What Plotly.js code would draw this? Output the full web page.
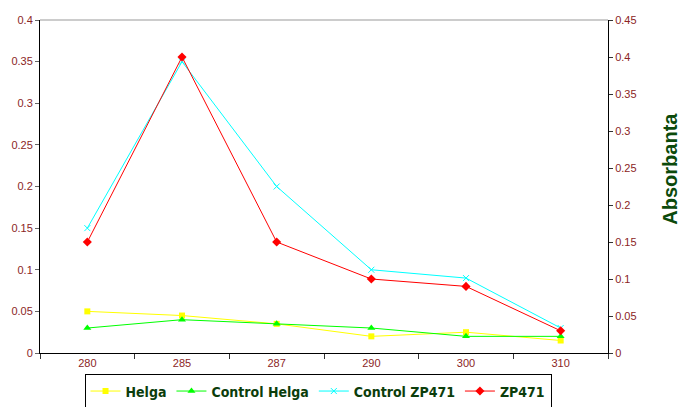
<!DOCTYPE html>
<html><head><meta charset="utf-8">
<script src="https://cdn.plot.ly/plotly-3.0.1.min.js"></script>
<style>html,body{margin:0;padding:0;background:#fff}</style>
</head><body>
<div id="chart" style="width:681px;height:407px"></div>
<script>
const categories = ["280", "285", "287", "290", "300", "310"];
const helga = [0.05, 0.045, 0.035, 0.02, 0.025, 0.015];
const controlHelga = [0.03, 0.04, 0.035, 0.03, 0.02, 0.02];
const controlZP471 = [0.15, 0.35, 0.2, 0.1, 0.09, 0.03];
const zp471 = [0.15, 0.4, 0.15, 0.1, 0.09, 0.03];
const leftTicks = [0, 0.05, 0.1, 0.15, 0.2, 0.25, 0.3, 0.35, 0.4];
const rightTicks = [0, 0.05, 0.1, 0.15, 0.2, 0.25, 0.3, 0.35, 0.4, 0.45];

const tickFont = {family: "Liberation Sans, Arial, sans-serif", size: 11, color: "#8b2525"};
const traces = [
  {name: "Helga", x: categories, y: helga, type: "scatter", mode: "lines+markers",
   line: {color: "#ffff00", width: 1}, marker: {symbol: "square", size: 6, color: "#ffff00"}},
  {name: "Control Helga", x: categories, y: controlHelga, type: "scatter", mode: "lines+markers",
   line: {color: "#00ff00", width: 1}, marker: {symbol: "triangle-up", size: 7, color: "#00ff00"}},
  {name: "Control ZP471", x: categories, y: controlZP471, type: "scatter", mode: "lines+markers",
   line: {color: "#00ffff", width: 1}, marker: {symbol: "x-thin-open", size: 6, color: "#00ffff", line: {color: "#00ffff", width: 1}}},
  {name: "ZP471", x: categories, y: zp471, yaxis: "y2", type: "scatter", mode: "lines+markers",
   line: {color: "#ff0000", width: 1}, marker: {symbol: "diamond", size: 7, color: "#ff0000"}}
];

const layout = {
  width: 681, height: 407,
  margin: {l: 40, r: 73, t: 20, b: 54},
  paper_bgcolor: "#ffffff", plot_bgcolor: "#ffffff",
  showlegend: true,
  xaxis: {type: "category", range: [-0.5, 5.5], showgrid: false, zeroline: false, automargin: false,
    showline: true, linecolor: "#000", linewidth: 1, ticks: "outside", ticklen: 5, tickcolor: "#333",
    tickson: "boundaries", tickfont: tickFont},
  yaxis: {range: [0, 0.4], tickvals: leftTicks, ticktext: leftTicks.map(String), showgrid: false, zeroline: false,
    automargin: false, showline: true, linecolor: "#000", linewidth: 1, ticks: "outside", ticklen: 4, tickcolor: "#666",
    tickfont: tickFont},
  yaxis2: {range: [0, 0.45], tickvals: rightTicks, ticktext: rightTicks.map(String), overlaying: "y", side: "right",
    automargin: false, showgrid: false, zeroline: false, showline: true, linecolor: "#000", linewidth: 1,
    ticks: "outside", ticklen: 4, tickcolor: "#333", tickfont: tickFont},
  shapes: [{type: "line", xref: "paper", yref: "paper", x0: 0, x1: 1, y0: 1, y1: 1,
    line: {color: "#999", width: 1}}],
  annotations: [{text: "<b>Absorbanta</b>", xref: "paper", yref: "paper", x: 1.11, y: 0.555,
    textangle: -90, showarrow: false, xanchor: "center", yanchor: "middle",
    font: {family: "Liberation Sans, Arial, sans-serif", size: 20, color: "#0b4a0b"}}],
  legend: {orientation: "h", xref: "container", yref: "container", x: 0.467, xanchor: "center", y: 0.08, yanchor: "top",
    bordercolor: "#000", borderwidth: 1, bgcolor: "#fff", itemwidth: 30, tracegroupgap: 0,
    font: {family: "DejaVu Sans Condensed, Liberation Sans, sans-serif", size: 14, color: "#0b3d0b", weight: "bold"}}
};
Plotly.newPlot("chart", traces, layout, {displayModeBar: false, staticPlot: true});
</script>
</body></html>
